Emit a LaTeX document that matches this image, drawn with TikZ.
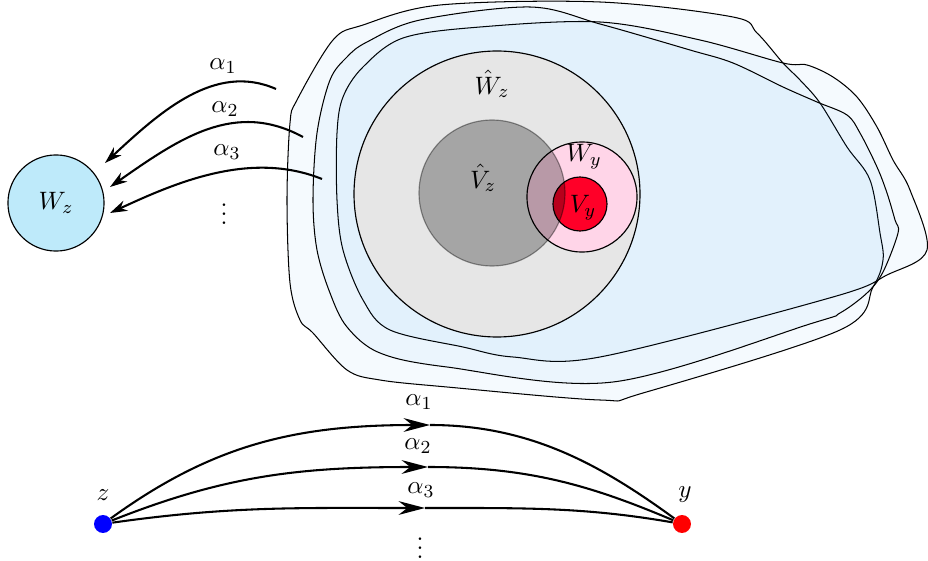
\documentclass[tikz,border=0pt]{standalone}
\usetikzlibrary{arrows.meta}
\definecolor{wzblue}{RGB}{190,234,250}
\definecolor{blobblue}{RGB}{0,130,230}
\definecolor{wypink}{RGB}{255,213,232}
\definecolor{vyred}{RGB}{255,0,40}
\definecolor{hatgray}{RGB}{230,230,230}
\begin{document}
\begin{tikzpicture}[x=0.435pt,y=-0.435pt,
  font=\fontsize{10.8}{13}\selectfont,
  every node/.style={inner sep=1pt},
  blob/.style={draw=black, line width=0.45pt, fill=blobblue, fill opacity=0.04},
  ring/.style={draw=black, line width=0.5pt},
  disc/.style={circle, draw=black, line width=0.5pt, inner sep=0pt},
  toparr/.style={line width=0.9pt, -{Stealth[length=7.5pt,width=4.8pt,inset=2.4pt]}},
  midarr/.style={line width=0.9pt, -{Stealth[length=11.5pt,width=6pt,inset=3.8pt]}},
  plainarc/.style={line width=0.9pt},
  pt/.style={circle, inner sep=0pt, minimum size=7.8pt}]
\useasboundingbox (0,0) rectangle (928,561);

% ---- blobs ----
\draw[blob] plot[smooth cycle, tension=0.55] coordinates {
 (440,5) (600,2) (733,17) (757,33) (783,63) (800,80) (820,103) (847,147)
 (870,180) (880,233) (883,260) (873,287) (840,330) (643,393) (600,400)
 (447,387) (380,380) (347,370) (313,333) (300,320) (290,283) (287,200)
 (290,123) (297,100) (333,40) (363,25)};
\draw[blob] plot[smooth cycle, tension=0.55] coordinates {
 (337,200) (337,133) (343,97) (363,67) (403,38) (480,27) (600,22) (700,40)
 (783,63) (807,65) (833,77) (857,97) (877,127) (893,160) (910,190) (927,250)
 (887,275) (833,297) (600,357) (513,357) (463,347) (390,330) (363,300) (343,250)};
\draw[blob] plot[smooth cycle, tension=0.55] coordinates {
 (313,200) (317,133) (330,80) (347,57) (367,42) (420,20) (530,7) (600,24)
 (690,50) (733,63) (783,87) (817,102) (847,115) (860,133) (877,167) (887,193)
 (895,220) (898,233) (883,272) (867,293) (840,313) (813,323) (613,382)
 (447,367) (380,353) (347,327) (330,293) (317,250)};

% ---- discs ----
\draw[ring, fill=hatgray] (497,194) circle[radius=62.2pt];
\draw[ring, fill=wypink] (582,197) circle[radius=23.95pt];
\draw[ring, fill=vyred] (580,204) circle[radius=11.75pt];
\draw[ring, fill=black, fill opacity=0.28, draw opacity=0.4] (492,193) circle[radius=31.75pt];

\node (lWhz) at (492,84) {$\hat W_z$};
\node (lVhz) at (483,178) {$\hat V_z$};
\node (lWy) at (584,157) {$W_y$};
\node (lVy) at (583,208) {$V_y$};

% ---- left disc and arrows ----
\node[disc, fill=wzblue, minimum size=41.8pt] (Wz) at (56,203) {$W_z$};

\coordinate (s1) at (276,89);  \coordinate (e1) at (105,163);
\coordinate (s2) at (303,137); \coordinate (e2) at (110,187);
\coordinate (s3) at (322,179); \coordinate (e3) at (110,213);
\draw[toparr] (s1) .. controls (215,62) and (160,112) .. (e1);
\draw[toparr] (s2) .. controls (235,100) and (180,138) .. (e2);
\draw[toparr] (s3) .. controls (250,150) and (175,183) .. (e3);
\node (ta1) at (223,66) {$\alpha_1$};
\node (ta2) at (225,109) {$\alpha_2$};
\node (ta3) at (227,152) {$\alpha_3$};
\node (tdots) at (224,207) {$\vdots$};

% ---- bottom paths ----
\node[pt, fill=blue] (z) at (103,524) {};
\node[pt, fill=red] (y) at (682,524) {};
\node (lz) at (103,495) {$z$};
\node (ly) at (685,495) {$y$};

\coordinate (m1) at (430,425);
\coordinate (m2) at (428,467);
\coordinate (m3) at (425,508);
\draw[midarr] (z) .. controls (212,445) and (295,425) .. (m1);
\draw[plainarc] (m1) .. controls (530,425) and (601,465) .. (y);
\draw[midarr] (z) .. controls (224,476) and (298,467) .. (m2);
\draw[plainarc] (m2) .. controls (528,467) and (590,485) .. (y);
\draw[midarr] (z) .. controls (230,506) and (297,508) .. (m3);
\draw[plainarc] (m3) .. controls (525,508) and (584,507) .. (y);

\node (ba1) at (419,402) {$\alpha_1$};
\node (ba2) at (418,446) {$\alpha_2$};
\node (ba3) at (421,490) {$\alpha_3$};
\node (bdots) at (420,541) {$\vdots$};
\end{tikzpicture}
\end{document}
